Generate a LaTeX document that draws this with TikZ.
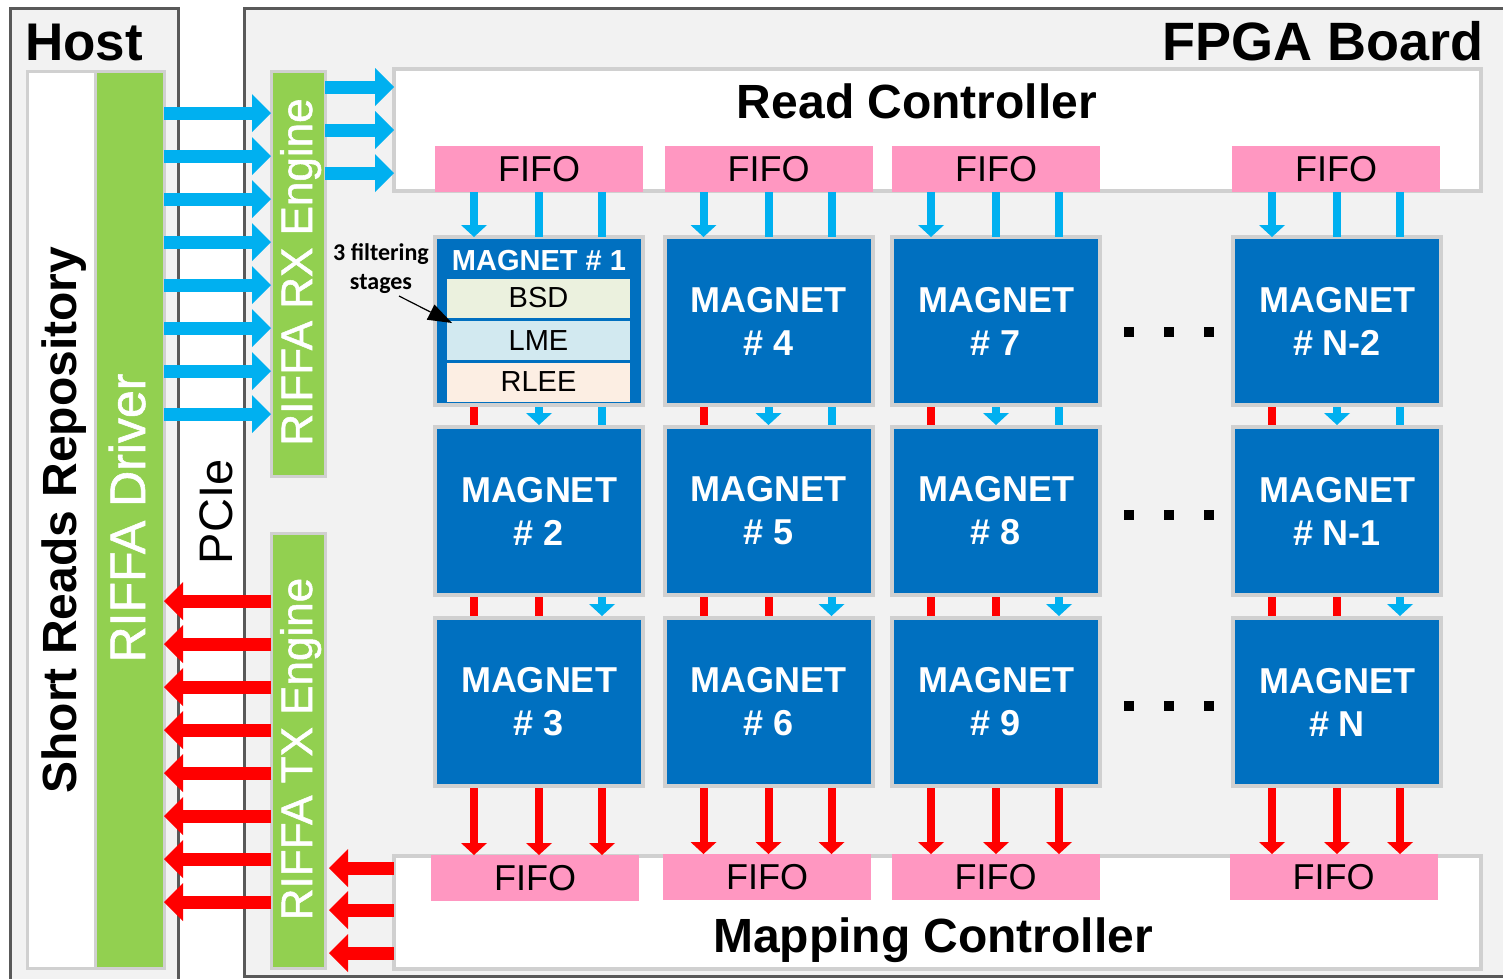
\documentclass[tikz,border=0pt]{standalone}
\usepackage{fontspec}
\setmainfont{Liberation Sans}
\newfontfamily\cali{Carlito}
\newfontfamily\fakeb[FakeBold=1.2]{Liberation Sans}
\usetikzlibrary{arrows.meta,calc}
\definecolor{cblue}{HTML}{00B0F0}
\definecolor{cred}{HTML}{FF0000}
\definecolor{mblue}{HTML}{0070C0}
\definecolor{cgreen}{HTML}{92D050}
\definecolor{cpink}{HTML}{FF97C1}
\definecolor{bggray}{HTML}{F2F2F2}
\definecolor{lgray}{HTML}{D0D0D0}
\definecolor{dgray}{HTML}{595959}
\definecolor{bsdc}{HTML}{EBF1DE}
\definecolor{lmec}{HTML}{D2E9F0}
\definecolor{rleec}{HTML}{FCEEE3}
\begin{document}
\begin{tikzpicture}[x=1pt,y=-1pt,
  frame/.style={draw=dgray, line width=3pt, fill=bggray, inner sep=0, outer sep=0, anchor=north west},
  lbox/.style={draw=lgray, line width=3pt, inner sep=0, outer sep=0, anchor=north west},
  ctrl/.style={draw=lgray, line width=4pt, fill=white, inner sep=0, outer sep=0, anchor=north west},
  fifo/.style={fill=cpink, minimum width=208pt, minimum height=46pt, inner sep=0, outer sep=0, font=\fontsize{36}{36}\selectfont},
  magnet/.style={fill=mblue, draw=lgray, line width=4pt, minimum width=208pt, minimum height=168pt, inner sep=0, outer sep=0, text=white, align=center, font=\fontsize{36}{43}\selectfont\bfseries},
  stage/.style={minimum width=183pt, minimum height=39pt, inner sep=0, outer sep=0, font=\fontsize{29}{29}\selectfont},
  dotsq/.style={fill=black, minimum size=10pt, inner sep=0, outer sep=0},
  vlab/.style={rotate=90, anchor=base, inner sep=0},
  bigb/.style={draw=cblue, line width=13pt, -{Triangle[length=19pt,width=38pt,line width=0pt]}},
  bigr/.style={draw=cred, line width=13pt, -{Triangle[length=19pt,width=38pt,line width=0pt]}},
  bl/.style={draw=cblue, line width=8pt},
  bla/.style={bl, -{Triangle[length=12pt,width=26pt,line width=0pt]}},
  rl/.style={draw=cred, line width=8pt},
  rla/.style={rl, -{Triangle[length=12pt,width=26pt,line width=0pt]}},
]
\useasboundingbox (0,0) rectangle (1503,978);
\fill[white] (0,0) rectangle (1503,978);

% outer frames
\node[frame, minimum width=168pt, minimum height=1010pt] (host) at (10,8) {};
\node[frame, minimum width=1280pt, minimum height=968pt] (fpga) at (244,8) {};
\node[anchor=base west, inner sep=0, font=\fontsize{53}{53}\selectfont\bfseries] (hostlbl) at (25,60) {Host};
\node[anchor=base east, inner sep=0, font=\fontsize{54}{54}\selectfont\bfseries] (fpgalbl) at (1484,60) {FPGA Board};

% host columns
\node[lbox, fill=white, minimum width=68pt, minimum height=897pt] (srr) at (27,71) {};
\node[lbox, fill=cgreen, minimum width=69pt, minimum height=897pt] (drv) at (95,71) {};
\node[vlab, font=\fontsize{48}{48}\selectfont\bfseries] (srrt) at (76,520) {Short Reads Repository};
\node[vlab, text=white, font=\fakeb\fontsize{50}{50}\selectfont] (drvt) at (145,518) {RIFFA Driver};
\node[vlab, font=\fontsize{47}{47}\selectfont] (pcie) at (232,512) {PCIe};

% RIFFA engines
\node[lbox, fill=cgreen, minimum width=54pt, minimum height=405pt] (rx) at (271,71) {};
\node[lbox, fill=cgreen, minimum width=54pt, minimum height=435pt] (tx) at (271,533) {};
\node[vlab, text=white, font=\fakeb\fontsize{44}{44}\selectfont] (rxt) at (312,272) {RIFFA RX Engine};
\node[vlab, text=white, font=\fakeb\fontsize{44}{44}\selectfont] (txt) at (312,749) {RIFFA TX Engine};

% controllers
\node[ctrl, minimum width=1087pt, minimum height=122pt] (rc) at (394,69) {};
\node[ctrl, minimum width=1087pt, minimum height=113pt] (mc) at (394,856) {};
\node[anchor=base, inner sep=0, font=\fontsize{48}{48}\selectfont\bfseries] (rct) at (917,118) {Read Controller};
\node[anchor=base, inner sep=0, font=\fontsize{48}{48}\selectfont\bfseries] (mct) at (933,952) {Mapping Controller};

% big arrows host <-> engines
\foreach \i in {0,...,7}{
  \pgfmathsetmacro\yy{113+43*\i}
  \coordinate (bt\i) at (0,\yy);
  \draw[bigb] (drv.east |- bt\i) -- (rx.west |- bt\i);
  \pgfmathsetmacro\yr{601+43*\i}
  \coordinate (rt\i) at (0,\yr);
  \draw[bigr] (tx.west |- rt\i) -- (drv.east |- rt\i);
}
\foreach \i/\yy in {0/87,1/130,2/173}{
  \coordinate (ct\i) at (0,\yy);
  \draw[bigb] (rx.east |- ct\i) -- (rc.west |- ct\i);
}
\foreach \i/\yy in {0/868,1/910,2/953}{
  \coordinate (mt\i) at (0,\yy);
  \draw[bigr] (mc.west |- mt\i) -- ([xshift=4pt]tx.east |- mt\i);
}

% FIFOs
\node[fifo] (ft1) at (539,169) {FIFO};
\node[fifo] (ft2) at (768.5,169) {FIFO};
\node[fifo] (ft3) at (996,169) {FIFO};
\node[fifo] (ft4) at (1336,169) {FIFO};
\node[fifo] (fb1) at (535,878) {FIFO};
\node[fifo] (fb2) at (767,877) {FIFO};
\node[fifo] (fb3) at (995.5,877) {FIFO};
\node[fifo] (fb4) at (1333.5,877) {FIFO};

% MAGNET blocks
\node[magnet] (m11) at (539,321) {};
\node[magnet] (m21) at (768.5,321) {MAGNET\\\# 4};
\node[magnet] (m31) at (996,321) {MAGNET\\\# 7};
\node[magnet] (m41) at (1337,321) {MAGNET\\\# N-2};
\node[magnet] (m12) at (539,511) {MAGNET\\\# 2};
\node[magnet] (m22) at (768.5,511) {MAGNET\\\# 5};
\node[magnet] (m32) at (996,511) {MAGNET\\\# 8};
\node[magnet] (m42) at (1337,511) {MAGNET\\\# N-1};
\node[magnet] (m13) at (539,702) {MAGNET\\\# 3};
\node[magnet] (m23) at (768.5,702) {MAGNET\\\# 6};
\node[magnet] (m33) at (996,702) {MAGNET\\\# 9};
\node[magnet] (m43) at (1337,702) {MAGNET\\\# N};

% MAGNET 1 internals
\node[inner sep=0, text=white, font=\fontsize{29}{29}\selectfont\bfseries] (h1) at (539,261) {MAGNET \# 1};
\node[stage, fill=bsdc] (bsd) at (538.5,298) {BSD};
\node[stage, fill=lmec] (lme) at (538.5,340.5) {LME};
\node[stage, fill=rleec] (rlee) at (538.5,382) {RLEE};

% filtering label
\node[align=center, inner sep=0, font=\cali\bfseries\fontsize{24}{29}\selectfont] (filt) at (381,269) {3 filtering\\stages};
\coordinate (fa) at (399,296);
\draw[line width=1.2pt, -{Triangle[length=24pt,width=17pt,line width=0pt]}] (fa) -- ([xshift=5pt,yshift=-2pt]lme.north west);

% connections
\foreach \c in {1,...,4}{
  \draw[bla] ($(m\c1.north |- ft\c.south)+(-65,0)$) -- ($(m\c1.north)+(-65,0)$);
  \draw[bl]  ($(m\c1.north |- ft\c.south)+(0,0)$) -- ($(m\c1.north)+(0,0)$);
  \draw[bl]  ($(m\c1.north |- ft\c.south)+(63,0)$) -- ($(m\c1.north)+(63,0)$);
  \draw[rl]  ($(m\c1.south)+(-65,2)$) -- ($(m\c2.north)+(-65,-2)$);
  \draw[bla] ($(m\c1.south)+(0,2)$) -- ($(m\c2.north)+(0,-2)$);
  \draw[bl]  ($(m\c1.south)+(63,2)$) -- ($(m\c2.north)+(63,-2)$);
  \draw[rl]  ($(m\c2.south)+(-65,2)$) -- ($(m\c3.north)+(-65,-2)$);
  \draw[rl]  ($(m\c2.south)+(0,2)$) -- ($(m\c3.north)+(0,-2)$);
  \draw[bla] ($(m\c2.south)+(63,2)$) -- ($(m\c3.north)+(63,-2)$);
  \foreach \o in {-65,0,63}
    \draw[rla] ($(m\c3.south)+(\o,2)$) -- ($(m\c3.south |- fb\c.north)+(\o,0)$);
}

% dots
\foreach \r/\yy in {1/332,2/515,3/706}{
  \foreach \k/\xx in {1/1129,2/1169,3/1209}{
    \node[dotsq] (d\r\k) at (\xx,\yy) {};
  }
}
\end{tikzpicture}
\end{document}
